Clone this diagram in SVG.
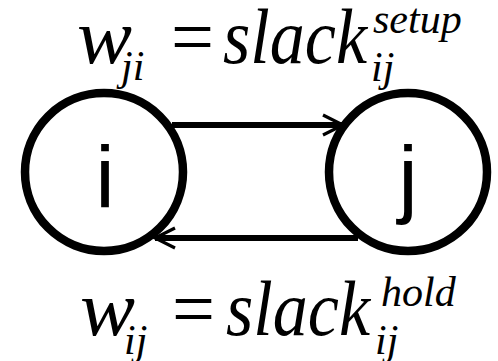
<svg xmlns="http://www.w3.org/2000/svg" width="498" height="361" viewBox="0 0 498 361">
<style>
.node{fill:none;stroke:#000;stroke-width:8.5}
.lbl{font-size:88px;fill:#000;text-anchor:middle}
.m{font-style:italic;fill:#000}
.big{font-size:78px}
.sub{font-size:42px}
.eq{font-size:78px;fill:#000}
.conn{fill:none;stroke:#000;stroke-width:6}
</style>
<defs>
<marker id="arr" viewBox="0 0 12 12" refX="11" refY="6" markerWidth="4" markerHeight="4" orient="auto" markerUnits="strokeWidth">
<path d="M1,1 L11,6 L1,11" fill="none" stroke="#000" stroke-width="1.6"/>
</marker>
</defs>
<g id="connectors">
<line class="conn" x1="172" y1="125" x2="343" y2="125" marker-end="url(#arr)"/>
<line class="conn" x1="358" y1="238" x2="155" y2="238" marker-end="url(#arr)"/>
</g>
<g id="node-i" font-family="Liberation Sans, Arial, sans-serif">
<circle class="node" cx="104" cy="172" r="79"/>
<text class="lbl" x="105" y="207">i</text>
</g>
<g id="node-j" font-family="Liberation Sans, Arial, sans-serif">
<circle class="node" cx="408" cy="172" r="79"/>
<text class="lbl" x="408" y="207">j</text>
</g>
<g id="label-setup" font-family="Liberation Serif, Times New Roman, serif">
<text class="m big" x="77" y="63" textLength="55" lengthAdjust="spacingAndGlyphs">w</text>
<text class="m sub" x="121" y="80">ji</text>
<text class="eq" x="171" y="63" textLength="43" lengthAdjust="spacingAndGlyphs">=</text>
<text class="m big" x="223" y="63" textLength="144" lengthAdjust="spacingAndGlyphs">slack</text>
<text class="m sub" x="371" y="81">ij</text>
<text class="m sub" x="373" y="33">setup</text>
</g>
<g id="label-hold" font-family="Liberation Serif, Times New Roman, serif">
<text class="m big" x="80" y="335" textLength="55" lengthAdjust="spacingAndGlyphs">w</text>
<text class="m sub" x="124" y="354">ij</text>
<text class="eq" x="172" y="335" textLength="43" lengthAdjust="spacingAndGlyphs">=</text>
<text class="m big" x="226" y="335" textLength="144" lengthAdjust="spacingAndGlyphs">slack</text>
<text class="m sub" x="375" y="354">ij</text>
<text class="m sub" x="381" y="306">hold</text>
</g>
</svg>
